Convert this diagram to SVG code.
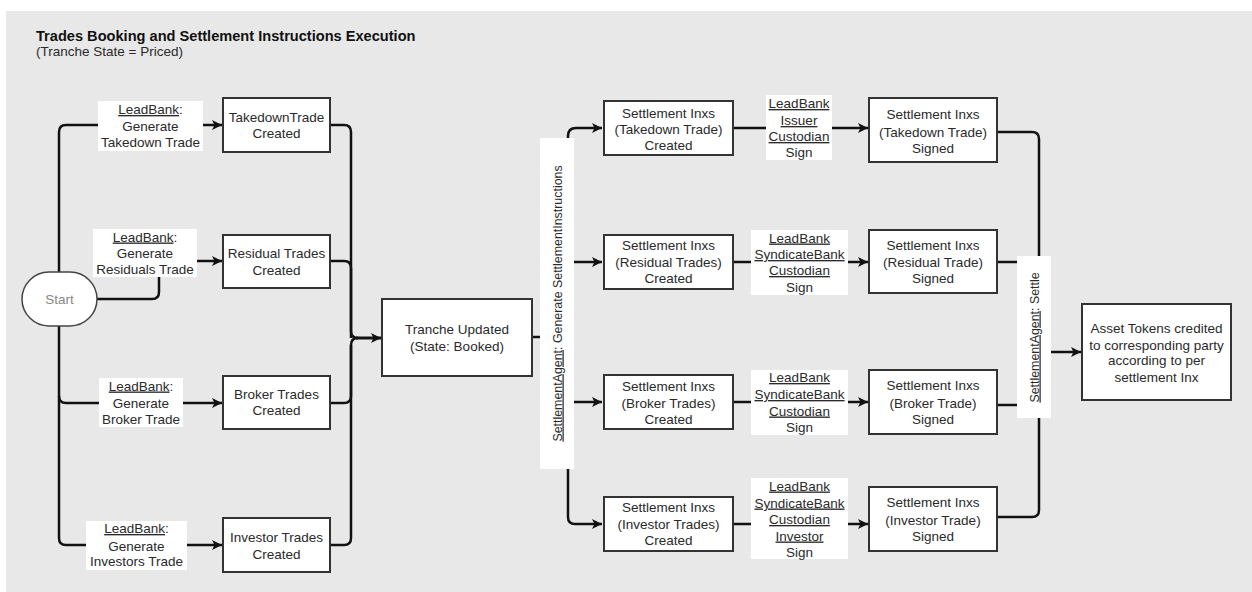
<svg xmlns="http://www.w3.org/2000/svg" width="1252" height="592" viewBox="0 0 1252 592">
<defs>
<marker id="arr" markerUnits="userSpaceOnUse" markerWidth="11" markerHeight="11" refX="10" refY="5" orient="auto">
<path d="M0,0 L10,5 L0,10 L2.5,5 z" fill="#111"/>
</marker>
<style>
.bg{fill:#e8e8e8}
.box{fill:#fff;stroke:#333;stroke-width:2}
.lbl{fill:#fff;stroke:none}
.c{fill:none;stroke:#111;stroke-width:2.5}
.a{fill:none;stroke:#111;stroke-width:2.5;marker-end:url(#arr)}
text{font-family:"Liberation Sans",Arial,sans-serif;font-size:13.5px;fill:#2a2a2a}
.m{text-anchor:middle}
.u{text-decoration:underline}
.t{font-weight:bold;fill:#111;font-size:14.6px}
.v{font-size:12.4px}
</style>
</defs>
<rect class="bg" x="6" y="11" width="1246" height="581"/>
<text class="t" x="36" y="40.5">Trades Booking and Settlement Instructions Execution</text>
<text x="36" y="56">(Tranche State = Priced)</text>

<g id="connectors">
<path class="c" d="M98 125 H66 Q59 125 59 132 V538 Q59 545 66 545 H86"/>
<path class="c" d="M59 396 Q59 403 66 403 H99"/>
<path class="c" d="M97 299 H152 Q159 299 159 292 V277"/>
<path class="a" d="M203 125 H222"/>
<path class="a" d="M197 261 H222"/>
<path class="a" d="M183 403 H222"/>
<path class="a" d="M187 545 H222"/>
<path class="c" d="M330 125 H344 Q351 125 351 132 V331 Q351 338 358 338"/>
<path class="c" d="M330 261 H344 Q351 261 351 268 V338"/>
<path class="c" d="M330 403 H344 Q351 403 351 396 V345 Q351 338 358 338"/>
<path class="c" d="M330 545 H344 Q351 545 351 538 V345"/>
<path class="a" d="M356 338 H381" style="stroke-width:3"/>
<path class="c" d="M532 337 H541"/>
<path class="a" d="M568 139 V136 Q568 128 576 128 H602"/>
<path class="a" d="M573 262 H602"/>
<path class="a" d="M573 402 H602"/>
<path class="a" d="M568 468 V517 Q568 524 575 524 H602"/>
<path class="c" d="M733 128 H767"/>
<path class="a" d="M832 128 H868"/>
<path class="c" d="M733 262 H752"/>
<path class="a" d="M848 262 H868"/>
<path class="c" d="M733 402 H752"/>
<path class="a" d="M848 402 H868"/>
<path class="c" d="M733 524 H752"/>
<path class="a" d="M848 524 H868"/>
<path class="c" d="M997 132 H1032 Q1039 132 1039 139 V510 Q1039 517 1032 517 H997"/>
<path class="c" d="M997 262 H1018"/>
<path class="c" d="M997 405 H1018"/>
<path class="a" d="M1051 352 H1081"/>
</g>

<g id="start">
<rect x="22" y="272" width="75" height="54" rx="27" ry="27" fill="#fff" stroke="#444" stroke-width="1.5"/>
<text class="m" x="59.5" y="304" style="fill:#888">Start</text>
</g>

<g id="lbl-takedown">
<rect class="lbl" x="98" y="101" width="105" height="50"/>
<text class="m" x="150.5" y="114"><tspan class="u">LeadBank</tspan>:</text>
<text class="m" x="150.5" y="131">Generate</text>
<text class="m" x="150.5" y="147">Takedown Trade</text>
</g>
<g id="lbl-residual">
<rect class="lbl" x="93" y="229" width="104" height="48"/>
<text class="m" x="145" y="241.5"><tspan class="u">LeadBank</tspan>:</text>
<text class="m" x="145" y="258">Generate</text>
<text class="m" x="145" y="274">Residuals Trade</text>
</g>
<g id="lbl-broker">
<rect class="lbl" x="99" y="378" width="84" height="49"/>
<text class="m" x="141" y="390.5"><tspan class="u">LeadBank</tspan>:</text>
<text class="m" x="141" y="408">Generate</text>
<text class="m" x="141" y="424">Broker Trade</text>
</g>
<g id="lbl-investor">
<rect class="lbl" x="86" y="521" width="101" height="49"/>
<text class="m" x="136.5" y="533"><tspan class="u">LeadBank</tspan>:</text>
<text class="m" x="136.5" y="550.5">Generate</text>
<text class="m" x="136.5" y="566">Investors Trade</text>
</g>

<g id="takedown-created">
<rect class="box" x="223" y="98" width="107" height="54"/>
<text class="m" x="276.5" y="121.5">TakedownTrade</text>
<text class="m" x="276.5" y="138">Created</text>
</g>
<g id="residual-created">
<rect class="box" x="223" y="235" width="107" height="53"/>
<text class="m" x="276.5" y="258">Residual Trades</text>
<text class="m" x="276.5" y="274.5">Created</text>
</g>
<g id="broker-created">
<rect class="box" x="223" y="376" width="107" height="53"/>
<text class="m" x="276.5" y="398.5">Broker Trades</text>
<text class="m" x="276.5" y="415">Created</text>
</g>
<g id="investor-created">
<rect class="box" x="223" y="518" width="107" height="54"/>
<text class="m" x="276.5" y="541.5">Investor Trades</text>
<text class="m" x="276.5" y="558.5">Created</text>
</g>

<g id="tranche">
<rect class="box" x="382" y="299" width="150" height="77"/>
<text class="m" x="457" y="334">Tranche Updated</text>
<text class="m" x="457" y="351">(State: Booked)</text>
</g>

<g id="lbl-generate">
<rect class="lbl" x="540" y="138" width="34" height="331"/>
<text class="m v" transform="translate(561.5 303.5) rotate(-90)"><tspan class="u">SettlementAgent</tspan>: Generate SettlementInstructions</text>
</g>

<g id="sinx-takedown-created">
<rect class="box" x="604" y="101" width="129" height="54"/>
<text class="m" x="668.5" y="117.5">Settlement Inxs</text>
<text class="m" x="668.5" y="134">(Takedown Trade)</text>
<text class="m" x="668.5" y="150">Created</text>
</g>
<g id="sinx-residual-created">
<rect class="box" x="604" y="235" width="129" height="54"/>
<text class="m" x="668.5" y="250">Settlement Inxs</text>
<text class="m" x="668.5" y="267">(Residual Trades)</text>
<text class="m" x="668.5" y="282.5">Created</text>
</g>
<g id="sinx-broker-created">
<rect class="box" x="604" y="375" width="129" height="54"/>
<text class="m" x="668.5" y="390.5">Settlement Inxs</text>
<text class="m" x="668.5" y="408">(Broker Trades)</text>
<text class="m" x="668.5" y="424">Created</text>
</g>
<g id="sinx-investor-created">
<rect class="box" x="604" y="497" width="129" height="54"/>
<text class="m" x="668.5" y="512">Settlement Inxs</text>
<text class="m" x="668.5" y="529">(Investor Trades)</text>
<text class="m" x="668.5" y="545">Created</text>
</g>

<g id="sign-takedown">
<rect class="lbl" x="766" y="95" width="66" height="65"/>
<text class="m u" x="799" y="108">LeadBank</text>
<text class="m u" x="799" y="125">Issuer</text>
<text class="m u" x="799" y="141">Custodian</text>
<text class="m" x="799" y="157">Sign</text>
</g>
<g id="sign-residual">
<rect class="lbl" x="751" y="230" width="97" height="65"/>
<text class="m u" x="799.5" y="242.5">LeadBank</text>
<text class="m u" x="799.5" y="259">SyndicateBank</text>
<text class="m u" x="799.5" y="275">Custodian</text>
<text class="m" x="799.5" y="291.5">Sign</text>
</g>
<g id="sign-broker">
<rect class="lbl" x="751" y="370" width="97" height="65"/>
<text class="m u" x="799.5" y="382">LeadBank</text>
<text class="m u" x="799.5" y="399">SyndicateBank</text>
<text class="m u" x="799.5" y="415.5">Custodian</text>
<text class="m" x="799.5" y="432">Sign</text>
</g>
<g id="sign-investor">
<rect class="lbl" x="751" y="478" width="97" height="81"/>
<text class="m u" x="799.5" y="490.5">LeadBank</text>
<text class="m u" x="799.5" y="507.5">SyndicateBank</text>
<text class="m u" x="799.5" y="524">Custodian</text>
<text class="m u" x="799.5" y="540.5">Investor</text>
<text class="m" x="799.5" y="556.5">Sign</text>
</g>

<g id="sinx-takedown-signed">
<rect class="box" x="869" y="98" width="128" height="64"/>
<text class="m" x="933" y="119">Settlement Inxs</text>
<text class="m" x="933" y="136.5">(Takedown Trade)</text>
<text class="m" x="933" y="153">Signed</text>
</g>
<g id="sinx-residual-signed">
<rect class="box" x="869" y="230" width="128" height="63"/>
<text class="m" x="933" y="250">Settlement Inxs</text>
<text class="m" x="933" y="267">(Residual Trade)</text>
<text class="m" x="933" y="282.5">Signed</text>
</g>
<g id="sinx-broker-signed">
<rect class="box" x="869" y="370" width="128" height="64"/>
<text class="m" x="933" y="390">Settlement Inxs</text>
<text class="m" x="933" y="408">(Broker Trade)</text>
<text class="m" x="933" y="424">Signed</text>
</g>
<g id="sinx-investor-signed">
<rect class="box" x="869" y="487" width="128" height="64"/>
<text class="m" x="933" y="507">Settlement Inxs</text>
<text class="m" x="933" y="524.5">(Investor Trade)</text>
<text class="m" x="933" y="540.5">Signed</text>
</g>

<g id="lbl-settle">
<rect class="lbl" x="1017" y="256" width="34" height="162"/>
<text class="m v" transform="translate(1038.5 337.5) rotate(-90)"><tspan class="u">SettlementAgent</tspan>: Settle</text>
</g>

<g id="asset-tokens">
<rect class="box" x="1082" y="304" width="149" height="96"/>
<text class="m" x="1156.5" y="333">Asset Tokens credited</text>
<text class="m" x="1156.5" y="349.5">to corresponding party</text>
<text class="m" x="1156.5" y="365">according to per</text>
<text class="m" x="1156.5" y="381.5">settlement Inx</text>
</g>
</svg>
